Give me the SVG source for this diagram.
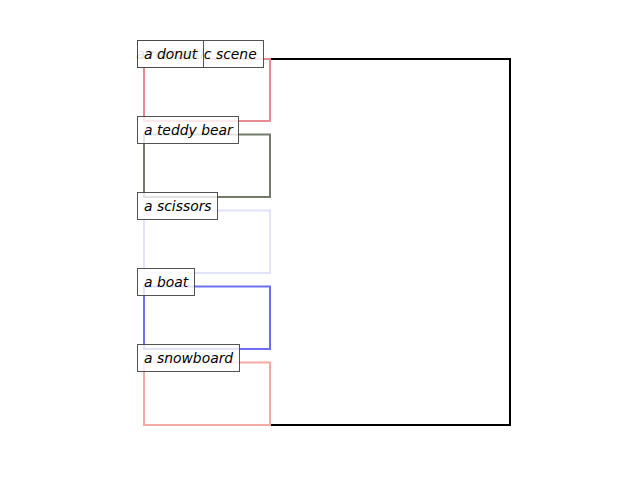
<svg xmlns="http://www.w3.org/2000/svg" width="640" height="480" viewBox="0 0 640 480">
<style>
.c{fill:none;stroke-width:2;stroke-linejoin:miter;stroke-linecap:square}
.b{fill:#ffffff;fill-opacity:0.8;stroke:#3f3f3f;stroke-opacity:0.9;stroke-width:1}
.t{font-family:"DejaVu Sans",sans-serif;font-style:italic;font-size:13.9px;fill:#000}
</style>
<rect width="640" height="480" fill="#fff"/>
<g id="connectors">
<path class="c" stroke="#000000" d="M270,59 H510 V425 H270"/>
<rect class="c" stroke="#e68a94" x="144" y="59" width="126" height="62"/>
<rect class="c" stroke="#737a6c" x="144" y="134.5" width="126" height="62.5"/>
<rect class="c" stroke="#e2e2fb" x="144" y="210.5" width="126" height="62.5"/>
<rect class="c" stroke="#6e6ef5" x="144" y="286.5" width="126" height="62.5"/>
<rect class="c" stroke="#f2aba3" x="144" y="362.5" width="126" height="62.5"/>
</g>
<g id="node-romantic-scene">
<rect class="b" x="137.5" y="40.5" width="126" height="27"/>
<text class="t" x="256.7" y="59" text-anchor="end">a romantic scene</text>
</g>
<g id="node-donut">
<rect class="b" x="137.5" y="40.5" width="66" height="27" style="fill-opacity:0.88"/>
<text class="t" x="144" y="59">a donut</text>
</g>
<g id="node-teddy-bear">
<rect class="b" x="137.5" y="116.5" width="101" height="27"/>
<text class="t" x="144" y="135">a teddy bear</text>
</g>
<g id="node-scissors">
<rect class="b" x="137.5" y="192.5" width="80" height="27"/>
<text class="t" x="144" y="211">a scissors</text>
</g>
<g id="node-boat">
<rect class="b" x="137.5" y="268.5" width="57" height="27"/>
<text class="t" x="144" y="287">a boat</text>
</g>
<g id="node-snowboard">
<rect class="b" x="137.5" y="344.5" width="102" height="27"/>
<text class="t" x="144" y="363">a snowboard</text>
</g>
</svg>
